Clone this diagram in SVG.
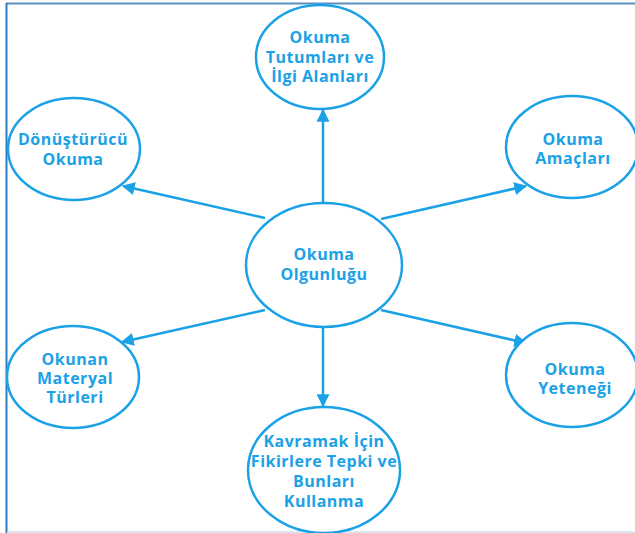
<svg xmlns="http://www.w3.org/2000/svg" width="635" height="533" viewBox="0 0 635 533">
<defs>
<marker id="ah" viewBox="0 0 10 10" refX="9" refY="5" markerWidth="5.2" markerHeight="5.2" markerUnits="strokeWidth" orient="auto">
<path d="M0,0 L10,5 L0,10 z" fill="#1ba1e6"/>
</marker>
<style>
.n{fill:#fff;stroke:#1ba1e6;stroke-width:2.5}
.t{font-family:"Open Sans","Noto Sans",sans-serif;font-weight:700;font-size:16px;letter-spacing:0.5px;fill:#1ba1e6;text-anchor:middle}
.c{stroke:#1ba1e6;stroke-width:2.5;fill:none;marker-end:url(#ah)}
</style>
</defs>
<rect width="635" height="533" fill="#fff"/>
<line x1="6" y1="3.5" x2="635" y2="3.5" stroke="#5b8fc0" stroke-width="2"/>
<line x1="6.5" y1="3" x2="6.5" y2="533" stroke="#2f7bc0" stroke-width="2"/>
<line x1="7" y1="532" x2="635" y2="532" stroke="#d2dfec" stroke-width="1.5"/>
<g id="connectors">
<line class="c" x1="323" y1="203" x2="323" y2="110"/>
<line class="c" x1="265" y1="218" x2="123" y2="186"/>
<line class="c" x1="381" y1="219" x2="526" y2="186"/>
<line class="c" x1="265" y1="310" x2="122" y2="342"/>
<line class="c" x1="381" y1="310" x2="526" y2="343"/>
<line class="c" x1="323" y1="328" x2="323" y2="406"/>
</g>
<g id="center">
<ellipse class="n" cx="324" cy="265" rx="78" ry="62"/>
<text class="t" x="324" y="260">Okuma</text>
<text class="t" x="324" y="280">Olgunluğu</text>
</g>
<g id="top">
<ellipse class="n" cx="320" cy="57" rx="64" ry="52"/>
<text class="t" x="320" y="43">Okuma</text>
<text class="t" x="320" y="63">Tutumları ve</text>
<text class="t" x="320" y="82">İlgi Alanları</text>
</g>
<g id="left-top">
<ellipse class="n" cx="74" cy="149" rx="66" ry="51"/>
<text class="t" x="73" y="145">Dönüştürücü</text>
<text class="t" x="73" y="165">Okuma</text>
</g>
<g id="right-top">
<ellipse class="n" cx="572" cy="147" rx="66" ry="51"/>
<text class="t" x="573" y="145">Okuma</text>
<text class="t" x="573" y="164">Amaçları</text>
</g>
<g id="left-bottom">
<ellipse class="n" cx="73" cy="377" rx="66" ry="51"/>
<text class="t" x="75" y="365">Okunan</text>
<text class="t" x="75" y="384">Materyal</text>
<text class="t" x="75" y="403">Türleri</text>
</g>
<g id="right-bottom">
<ellipse class="n" cx="572" cy="375" rx="66" ry="52"/>
<text class="t" x="575" y="375">Okuma</text>
<text class="t" x="575" y="394">Yeteneği</text>
</g>
<g id="bottom">
<ellipse class="n" cx="324" cy="470" rx="76" ry="63"/>
<text class="t" x="324" y="447">Kavramak İçin</text>
<text class="t" x="324" y="467">Fikirlere Tepki ve</text>
<text class="t" x="324" y="487">Bunları</text>
<text class="t" x="324" y="507">Kullanma</text>
</g>
</svg>
